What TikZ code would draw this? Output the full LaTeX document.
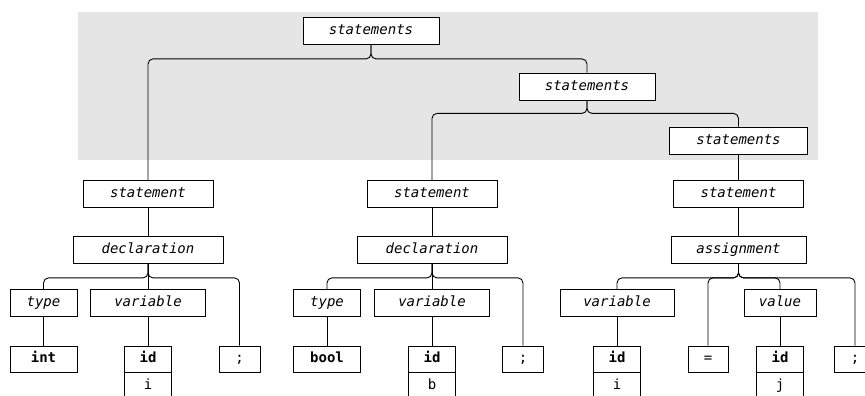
\documentclass[tikz,border=0pt]{standalone}
\usepackage{fontspec}
\setmonofont{DejaVu Sans Mono}
\usetikzlibrary{positioning}

\begin{document}
\begin{tikzpicture}[x=1pt, y=-1pt,
  nterm/.style={draw, fill=white, line width=0.8pt, minimum height=27pt, inner sep=0pt,
    text height=10pt, text depth=3pt, font=\ttfamily\itshape\fontsize{14}{16}\selectfont},
  term/.style={draw, fill=white, line width=0.8pt, minimum height=26pt, inner sep=0pt,
    text height=10pt, text depth=3pt, font=\ttfamily\bfseries\fontsize{14}{16}\selectfont},
  cell/.style={draw, fill=white, line width=0.8pt, minimum height=26pt, inner sep=0pt,
    text height=10pt, text depth=3pt, font=\ttfamily\fontsize{14}{16}\selectfont},
  link/.style={draw=black, line width=0.9pt, rounded corners=5pt}]
  \useasboundingbox (0,0) rectangle (865,396);
  \fill[black!10] (78,12) rectangle (818,160);
  % statements spine
  \node[nterm, minimum width=136pt] (root) at (371,31) {statements};
  \node[nterm, minimum width=136pt] (stsB) at (587,86.5) {statements};
  \node[nterm, minimum width=138pt] (stsC) at (738.5,140.5) {statements};
  \node[nterm, minimum width=130pt] (stA) at (148,194) {statement};
  \node[nterm, minimum width=130pt] (stB) at (432,194) {statement};
  \node[nterm, minimum width=130pt] (stC) at (738.5,194) {statement};
  % first declaration
  \node[nterm, minimum width=150pt] (declA) at (148,250) {declaration};
  \node[nterm, minimum width=67pt] (typeA) at (43.5,303) {type};
  \node[nterm, minimum width=115pt] (varA) at (148,303) {variable};
  \node[term, minimum width=67pt] (intA) at (43.5,359) {int};
  \node[term, minimum width=47pt] (idA) at (148,359) {id};
  \node[cell, minimum width=47pt, below=0pt of idA] (iA) {i};
  \node[cell, minimum width=41pt] (semiA) at (239.5,359) {;};
  % second declaration
  \node[nterm, minimum width=150pt] (declB) at (432,250) {declaration};
  \node[nterm, minimum width=67pt] (typeB) at (327,303) {type};
  \node[nterm, minimum width=115pt] (varB) at (432,303) {variable};
  \node[term, minimum width=67pt] (boolB) at (327,359) {bool};
  \node[term, minimum width=47pt] (idB) at (432,359) {id};
  \node[cell, minimum width=47pt, below=0pt of idB] (bB) {b};
  \node[cell, minimum width=41pt] (semiB) at (523,359) {;};
  % assignment
  \node[nterm, minimum width=135pt] (asgC) at (738.5,250) {assignment};
  \node[nterm, minimum width=114pt] (varC) at (617,303) {variable};
  \node[nterm, minimum width=72pt] (valC) at (780,303) {value};
  \node[term, minimum width=47pt] (idC) at (617,359) {id};
  \node[cell, minimum width=47pt, below=0pt of idC] (iC) {i};
  \node[cell, minimum width=40pt] (eqC) at (708,359) {=};
  \node[term, minimum width=47pt] (idD) at (780,359) {id};
  \node[cell, minimum width=47pt, below=0pt of idD] (jD) {j};
  \node[cell, minimum width=41pt] (semiC) at (855,359) {;};
  % links
  \draw[link] (root.south) -- ++(0,14) -| (stA.north);
  \draw[link] (root.south) -- ++(0,14) -| (stsB.north);
  \draw[link] (stsB.south) -- ++(0,13) -| (stB.north);
  \draw[link] (stsB.south) -- ++(0,13) -| (stsC.north);
  \draw[link] (stsC) -- (stC);
  \draw[link] (stA) -- (declA);
  \draw[link] (stB) -- (declB);
  \draw[link] (stC) -- (asgC);
  \draw[link] (declA.south) -- ++(0,14) -| (typeA.north);
  \draw[link] (declA) -- (varA);
  \draw[link] (declA.south) -- ++(0,14) -| (semiA.north);
  \draw[link] (typeA) -- (intA);
  \draw[link] (varA) -- (idA);
  \draw[link] (declB.south) -- ++(0,14) -| (typeB.north);
  \draw[link] (declB) -- (varB);
  \draw[link] (declB.south) -- ++(0,14) -| (semiB.north);
  \draw[link] (typeB) -- (boolB);
  \draw[link] (varB) -- (idB);
  \draw[link] (asgC.south) -- ++(0,14) -| (varC.north);
  \draw[link] (asgC.south) -- ++(0,14) -| (eqC.north);
  \draw[link] (asgC.south) -- ++(0,14) -| (valC.north);
  \draw[link] (asgC.south) -- ++(0,14) -| (semiC.north);
  \draw[link] (varC) -- (idC);
  \draw[link] (valC) -- (idD);
\end{tikzpicture}
\end{document}
